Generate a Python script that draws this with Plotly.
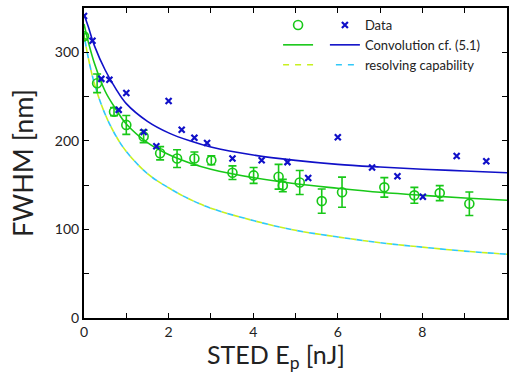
import plotly.graph_objects as go

# Measured data (green, with error bars)
meas_x = [0, 0.31, 0.71, 1.0, 1.41, 1.80, 2.2, 2.61, 3.01, 3.51, 4.01, 4.6, 4.7, 5.1, 5.62, 6.1, 7.1, 7.81, 8.41, 9.11]
meas_y = [318, 265, 233, 218, 205, 186, 180, 180, 178, 164, 161, 159.5, 149.5, 153, 132, 142, 147.5, 138.5, 141, 129]
meas_err = [3, 10.5, 4.5, 10.7, 7, 7.5, 10, 7.5, 5, 7.7, 9, 14, 7, 13.5, 13.7, 17, 11, 9, 8.5, 13.3]

# Data (blue crosses)
data_x = [0, 0.2, 0.41, 0.6, 0.82, 1.0, 1.41, 1.71, 2.0, 2.31, 2.61, 2.91, 3.51, 4.2, 4.81, 5.3, 6.0, 6.81, 7.41, 8.01, 8.81, 9.51]
data_y = [341, 313, 270, 269, 235, 254, 210, 194, 245, 212.5, 203.5, 197.5, 180, 178, 176, 158, 204, 170, 160, 137, 183, 177]

# Curves
curve_x = [0, 0.1, 0.25, 0.5, 0.75, 1, 1.5, 2, 2.5, 3, 4, 5, 6, 7, 8, 9, 10]
conv_blue = [343, 329, 307, 280, 259, 242, 222, 209, 200, 193, 184, 178, 173.5, 170.5, 168, 166, 164]
conv_green = [332, 312, 287, 256, 236, 219, 198, 184.5, 175, 168, 158.5, 151.5, 146.5, 142, 138.5, 135.5, 133]
resolving = [320, 294, 264, 230, 206, 188, 163, 147, 134, 124, 110, 99, 91.5, 85, 80, 75.5, 72]

BLUE = "#1010c8"
GREEN = "#18c818"
YELLOW = "#c8f020"
CYAN = "#30c8f8"
FONT = "Lato"

fig = go.Figure()

# resolving capability (two overlapping dashed curves)
fig.add_trace(go.Scatter(x=curve_x, y=resolving, mode="lines", line=dict(color=YELLOW, width=1.6, dash="6px,6px", shape="spline"),
                         name=" ", legend="legend2", legendrank=3))
fig.add_trace(go.Scatter(x=curve_x, y=resolving, mode="lines", line=dict(color=CYAN, width=1.6, dash="0px,6px,6px,0px", shape="spline"),
                         name="resolving capability", legendrank=3))
# convolution curves
fig.add_trace(go.Scatter(x=curve_x, y=conv_green, mode="lines", line=dict(color=GREEN, width=1.6, shape="spline"),
                         name=" ", legend="legend2", legendrank=2))
fig.add_trace(go.Scatter(x=curve_x, y=conv_blue, mode="lines", line=dict(color=BLUE, width=1.6, shape="spline"),
                         name="Convolution cf. (5.1)", legendrank=2))
# measurements
fig.add_trace(go.Scatter(x=meas_x, y=meas_y, mode="markers",
                         marker=dict(symbol="circle-open", size=9, color=GREEN, line=dict(width=1.6, color=GREEN)),
                         error_y=dict(type="data", array=meas_err, color=GREEN, thickness=1.6, width=4),
                         name=" ", legend="legend2", legendrank=1))
fig.add_trace(go.Scatter(x=data_x, y=data_y, mode="markers",
                         marker=dict(symbol="x-thin", size=6, color=BLUE, line=dict(width=2.2, color=BLUE)),
                         name="Data", legendrank=1))

axis_common = dict(showline=True, linecolor="black", linewidth=2, mirror="allticks", ticks="inside",
                   ticklen=5, tickwidth=1.3, tickcolor="black", showgrid=False, zeroline=False,
                   tickfont=dict(family=FONT, size=14, color="#222"))

fig.update_xaxes(range=[0, 10], dtick=2, tick0=0,
                 minor=dict(dtick=1, ticks="inside", ticklen=5, tickwidth=1.3, tickcolor="black", showgrid=False),
                 **axis_common)
fig.update_yaxes(range=[0, 350], dtick=100, tick0=0,
                 minor=dict(dtick=50, ticks="inside", ticklen=5, tickwidth=1.3, tickcolor="black", showgrid=False),
                 title=dict(text="FWHM [nm]", font=dict(family=FONT, size=27, color="#222"), standoff=13),
                 **axis_common)

fig.add_annotation(text="STED E<sub>p</sub> [nJ]", xref="paper", yref="paper", x=0.454, y=-0.121,
                   xanchor="center", yanchor="middle", showarrow=False,
                   font=dict(family=FONT, size=25, color="#222"))

legend_common = dict(font=dict(family=FONT, size=13, color="#222"), bgcolor="rgba(0,0,0,0)",
                     borderwidth=0, yanchor="top", xanchor="left", tracegroupgap=0, itemwidth=30)
fig.update_layout(
    width=515, height=374,
    margin=dict(l=84, r=6, t=7, b=56),
    plot_bgcolor="white", paper_bgcolor="white",
    showlegend=True,
    legend=dict(x=0.5695, y=0.9936, **legend_common),
    legend2=dict(x=0.4588, y=0.9936, **legend_common),
)

fig.write_html("out.html")
